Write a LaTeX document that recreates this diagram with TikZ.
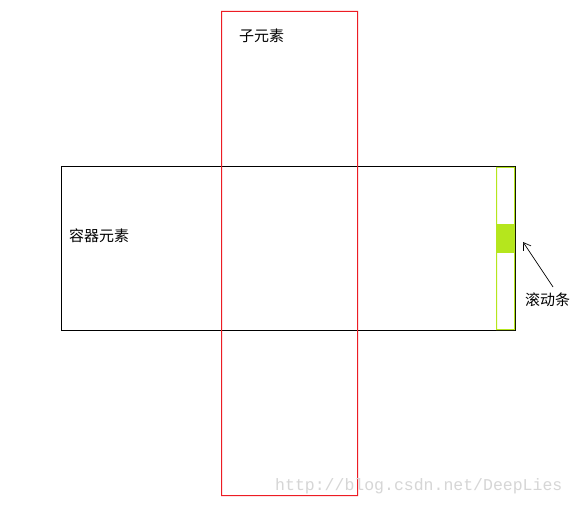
\documentclass[tikz,border=0pt]{standalone}
\usepackage{fontspec}
\newfontfamily\cjk{Noto Sans CJK SC}
\newfontfamily\wmfont{Liberation Mono}
\usetikzlibrary{arrows.meta}
\definecolor{childred}{RGB}{237,28,36}
\definecolor{barlime}{RGB}{181,230,29}
\definecolor{wm}{RGB}{214,214,214}
\tikzset{
  lbl/.style={font=\cjk\fontsize{15bp}{15bp}\selectfont, inner sep=0pt, anchor=west},
}
\begin{document}
\begin{tikzpicture}[x=1bp,y=-1bp]
\useasboundingbox (0,0) rectangle (577,505);
\fill[white] (0,0) rectangle (577,505);
% container
\draw[black, line width=1bp] (61.5,166.5) rectangle (515.5,330.5);
\node[lbl] (clabel) at (69,236) {容器元素};
% scrollbar
\fill[fill=barlime, even odd rule] (496,167) rectangle (515,330) (497,168) rectangle (514,329);
\fill[fill=barlime] (496,224) rectangle (515,253);
\coordinate (thumbtip) at (523,242);
\node[lbl] (slabel) at (525,300) {滚动条};
\draw[-{Straight Barb[length=7bp,width=9bp]}, line width=0.7bp] (553,287) -- (thumbtip);
% child element
\fill[fill=childred, even odd rule] (221,11) rectangle (358,496) (222,12) rectangle (357,495);
\node[lbl] (clab2) at (239,36) {子元素};
% watermark
\node[font=\wmfont\fontsize{16.5bp}{16.5bp}\selectfont, text=wm, inner sep=0pt, anchor=west] (wmk) at (275,486) {http://blog.csdn.net/DeepLies};
\end{tikzpicture}
\end{document}
